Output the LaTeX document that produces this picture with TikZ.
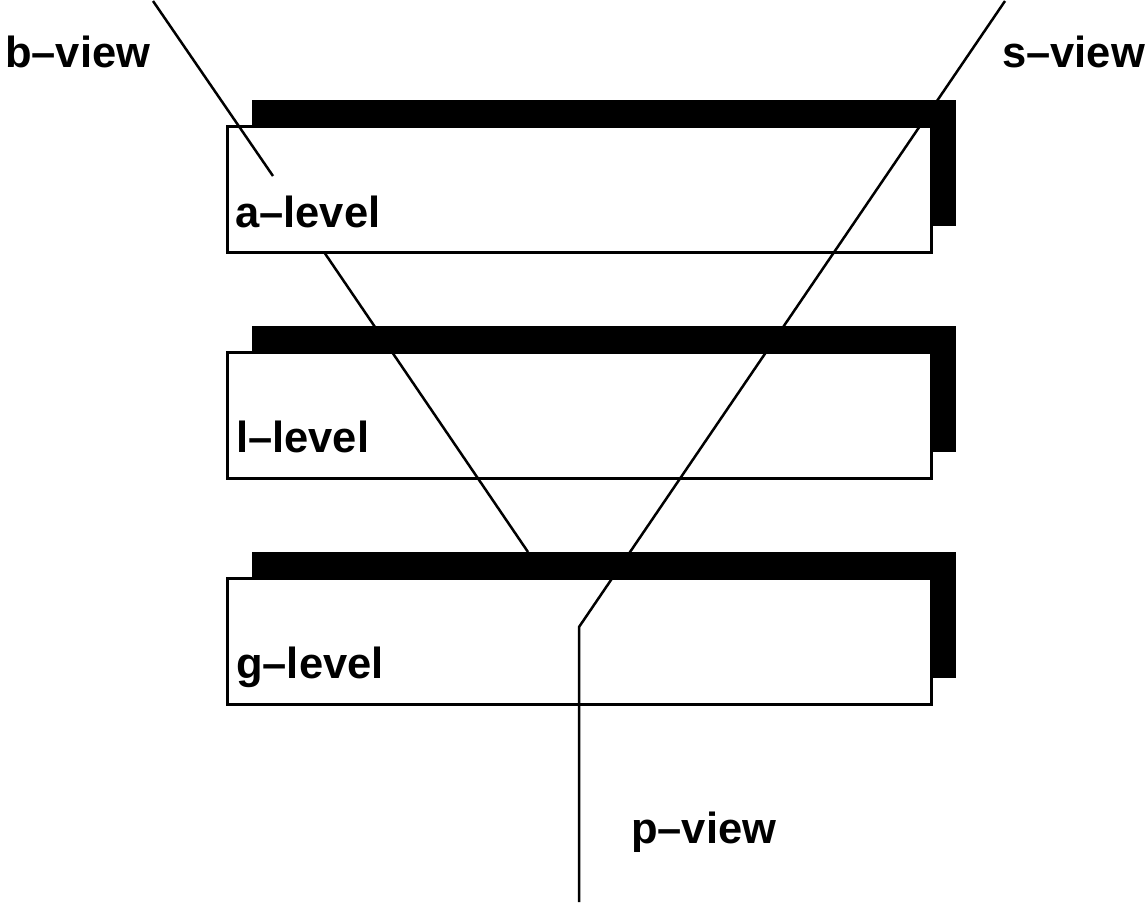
\documentclass[tikz,border=0pt]{standalone}
\usepackage{fontspec}
\setmainfont{Liberation Sans}
\usetikzlibrary{shadows}
\begin{document}
\begin{tikzpicture}[x=1pt,y=-1pt,
  levelbox/.style={draw=black, line width=3pt, fill=white, minimum width=704pt, minimum height=126pt, inner sep=0pt,
    general shadow={fill=black, shadow xshift=25pt, shadow yshift=26pt}},
  lbl/.style={anchor=base west, inner sep=0pt, font=\fontsize{43.5}{50}\selectfont\bfseries},
  viewline/.style={line width=2.5pt, line cap=butt}]
\useasboundingbox (0,0) rectangle (1148,902);
% levels
\node[levelbox] (A) at (579,189) {};
\node[levelbox] (L) at (579,415) {};
\node[levelbox] (G) at (579,641) {};
% level labels
\node[lbl] (at) at (235,227) {a–level};
\node[lbl] (lt) at (236,452) {l–level};
\node[lbl] (gt) at (236,678) {g–level};
% view labels
\node[lbl] (bv) at (5,67) {b–view};
\node[lbl] (sv) at (1002,67) {s–view};
\node[lbl] (pv) at (631,843) {p–view};
% coordinates
\coordinate (b0) at (153,1);
\coordinate (b1) at (273,176);
\coordinate (b2) at (324,252);
\coordinate (b3) at (528,552);
\coordinate (s0) at (1005,1);
\coordinate (s1) at (579,627);
\coordinate (s2) at (579,902);
% lines
\draw[viewline] (b0) -- (b1);
\draw[viewline] (b2) -- (b3);
\draw[viewline] (s0) -- (s1) -- (s2);
\end{tikzpicture}
\end{document}
